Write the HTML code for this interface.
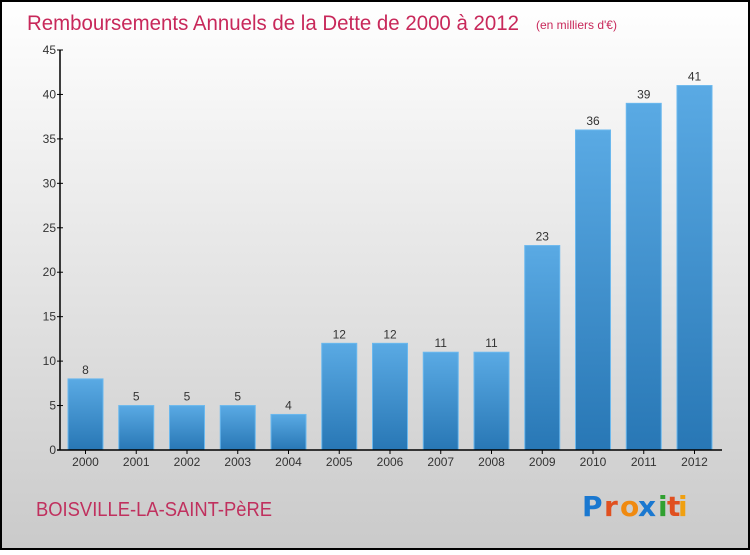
<!DOCTYPE html>
<html><head><meta charset="utf-8"><style>
body{margin:0;width:750px;height:550px;overflow:hidden;font-family:"Liberation Sans",sans-serif}
</style></head><body>
<svg width="750" height="550" xmlns="http://www.w3.org/2000/svg" id="svg">
<defs>
<linearGradient id="bg" x1="0" y1="0" x2="0" y2="1"><stop offset="0" stop-color="#ffffff"/><stop offset="1" stop-color="#cacaca"/></linearGradient>
<linearGradient id="bar" x1="0" y1="0" x2="0" y2="1"><stop offset="0" stop-color="#5aaae4"/><stop offset="1" stop-color="#2877b5"/></linearGradient>
</defs>
<rect x="1" y="1" width="748" height="548" fill="url(#bg)" stroke="#000" stroke-width="2"/>
<text x="27" y="30" font-size="21" fill="#c8285a" font-weight="normal" textLength="492" lengthAdjust="spacingAndGlyphs">Remboursements Annuels de la Dette de 2000 à 2012</text>
<text x="536" y="29" font-size="12" fill="#c8285a">(en milliers d'€)</text>
<g id="plot"></g>
<text x="36" y="516" font-size="20" fill="#c0305e" textLength="236" lengthAdjust="spacingAndGlyphs">BOISVILLE-LA-SAINT-PèRE</text>
<g font-size="28" font-weight="bold" font-family="'DejaVu Sans',sans-serif">
<text x="582" y="516" fill="#1a78d0">P</text><text x="604" y="516" fill="#e05020">r</text><text x="620" y="516" fill="#f08a10">o</text><text x="638" y="516" fill="#1a78d0">x</text><text x="658" y="516" fill="#30a030">i</text><text x="667" y="516" fill="#e05020">t</text><text x="678" y="516" fill="#f0a010">i</text>
</g>
</svg>
<script>
const categories=["2000","2001","2002","2003","2004","2005","2006","2007","2008","2009","2010","2011","2012"];
const values=[8,5,5,5,4,12,12,11,11,23,36,39,41];
const yTicks=[0,5,10,15,20,25,30,35,40,45];
const ns="http://www.w3.org/2000/svg";
const g=document.getElementById("plot");
const x0=60,x1=722,yTop=50,yBot=450,yMax=45;
const y=v=>yBot-(v/yMax)*(yBot-yTop);
const step=50.75, bw=35;
const xc=i=>85.5+i*step;
function mk(t,a,txt){const e=document.createElementNS(ns,t);for(const k in a)e.setAttribute(k,a[k]);if(txt!=null)e.textContent=txt;g.appendChild(e);return e;}
values.forEach((v,i)=>{
 const r=mk("rect",{x:xc(i)-bw/2,y:y(v),width:bw,height:yBot-y(v),fill:"url(#bar)",stroke:"#6ab8ee","stroke-width":1});
 
 
 const l=mk("text",{x:xc(i),y:y(v)-5,"font-size":12,fill:"#333","text-anchor":"middle"},String(v));
 
 
 const c=mk("text",{x:xc(i),y:466,"font-size":12,fill:"#333","text-anchor":"middle"},categories[i]);
 
 
 const tk=mk("line",{x1:xc(i),x2:xc(i),y1:yBot,y2:yBot+4,stroke:"#000"});
 
 
});
yTicks.forEach(t=>{
 const tl=mk("line",{x1:x0-3,x2:x0+3,y1:y(t),y2:y(t),stroke:"#000"});
 
 
 const tx=mk("text",{x:x0-4,y:y(t)+4,"font-size":12,fill:"#333","text-anchor":"end"},String(t));
 
 
});
const ya=mk("line",{x1:x0,x2:x0,y1:yTop,y2:yBot,stroke:"#000","stroke-width":1.5});


const xa=mk("line",{x1:x0-3,x2:x1,y1:yBot,y2:yBot,stroke:"#000","stroke-width":1.5});


</script>
</body></html>
